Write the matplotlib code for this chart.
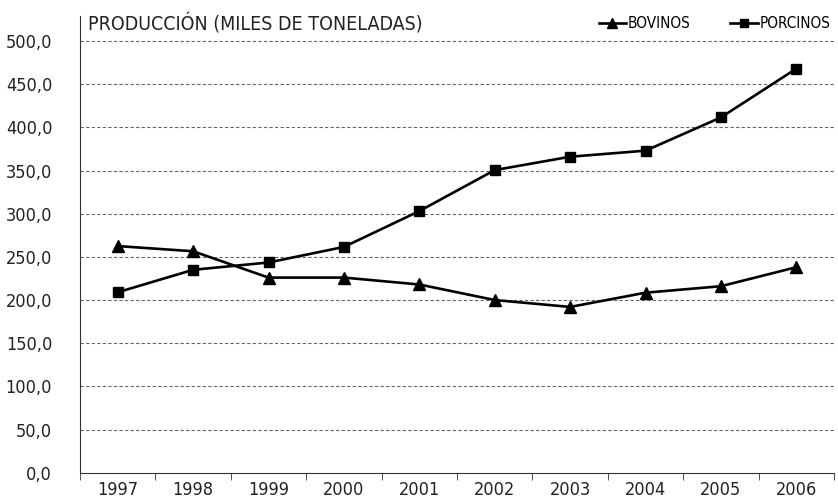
import matplotlib
matplotlib.use("Agg")
import matplotlib.pyplot as plt
import numpy as np

years = ["1997", "1998", "1999", "2000", "2001", "2002", "2003", "2004", "2005", "2006"]
bovinos = [262.5, 256.5, 226.0, 226.0, 218.0, 200.0, 192.0, 208.5, 216.0, 238.0]
porcinos = [209.0, 235.0, 243.5, 261.5, 303.0, 350.5, 366.0, 373.0, 411.5, 468.0]
yticks = [0, 50, 100, 150, 200, 250, 300, 350, 400, 450, 500]

plt.rcParams['font.family'] = ['DejaVu Sans']
plt.rcParams['font.stretch'] = 'condensed'

fig = plt.figure(figsize=(8.38, 4.98), dpi=100)
ax = fig.add_axes([80 / 838, 1 - 472.7 / 498, 754 / 838, (472.7 - 16) / 498])

x = np.arange(len(years))
ax.plot(x, bovinos, color='black', lw=1.9, marker='^', ms=8, label='BOVINOS')
ax.plot(x, porcinos, color='black', lw=1.9, marker='s', ms=7, label='PORCINOS')

ax.set_xlim(-0.5, len(years) - 0.5)
ax.set_ylim(0, 529)

# dashed gridlines only up to 500
for v in yticks[1:]:
    ax.axhline(v, color='#666666', lw=0.8, ls=(0, (3, 2)), zorder=0)

ax.set_yticks(yticks)
ax.set_yticklabels([f"{v:.1f}".replace('.', ',') for v in yticks], fontsize=13, color='#222222')
ax.tick_params(axis='y', length=0, pad=20)

ax.set_xticks(x)
ax.set_xticklabels(years, fontsize=13, color='#222222')
ax.set_xticks(np.arange(len(years) + 1) - 0.5, minor=True)
ax.tick_params(axis='x', which='major', length=0, pad=6)
ax.tick_params(axis='x', which='minor', length=5, direction='out', color='#333333')

for s in ['top', 'right']:
    ax.spines[s].set_visible(False)
ax.spines['left'].set_color('#333333')
ax.spines['bottom'].set_color('#333333')

ax.text(0.011, 1.005, "PRODUCCIÓN (MILES DE TONELADAS)", transform=ax.transAxes,
        fontsize=14, color='#222222', va='top', ha='left')

ax.legend(loc='upper right', bbox_to_anchor=(1.013, 1.03), ncol=2, frameon=False,
          fontsize=11, handlelength=1.8, handletextpad=0.1, columnspacing=2.6,
          markerscale=0.9)

fig.savefig('out.png', dpi=100)
